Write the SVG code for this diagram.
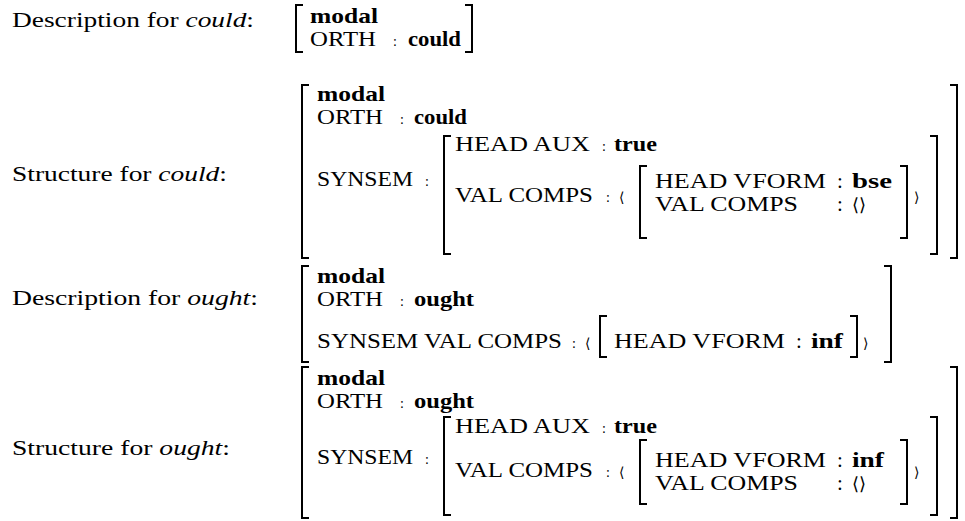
<svg xmlns="http://www.w3.org/2000/svg" width="965" height="521" viewBox="0 0 965 521">
<style>
text { font-family: "Liberation Serif", "Times New Roman", serif; font-size: 21px; fill: #000; }
.b { font-weight: bold; }
.i { font-style: italic; }
.sc { font-size: 14px; }
.ab { font-size: 14px; font-family: "DejaVu Serif", serif; }
.em { font-family: "DejaVu Serif", serif; font-size: 18px; }
.br { fill: none; stroke: #000; stroke-width: 2; }
</style>
<rect width="965" height="521" fill="#fff"/>

<g id="desc-could">
  <text x="12" y="27" textLength="242" lengthAdjust="spacingAndGlyphs">Description for <tspan class="i">could</tspan>:</text>
  <path class="br" d="M303 5 H296 V52 H303"/>
  <path class="br" d="M465 5 H472 V52 H465"/>
  <text class="b" x="310" y="23" textLength="68" lengthAdjust="spacingAndGlyphs">modal</text>
  <text x="310" y="46" textLength="66" lengthAdjust="spacingAndGlyphs">ORTH</text>
  <text class="sc" x="393" y="46">:</text>
  <text class="b" x="408" y="46" textLength="53" lengthAdjust="spacingAndGlyphs">could</text>
</g>

<g id="struct-could">
  <text x="12" y="181" textLength="215" lengthAdjust="spacingAndGlyphs">Structure for <tspan class="i">could</tspan>:</text>
  <path class="br" d="M309 85 H302 V258 H309"/>
  <path class="br" d="M950 85 H957 V258 H950"/>
  <text class="b" x="317" y="101" textLength="68" lengthAdjust="spacingAndGlyphs">modal</text>
  <text x="317" y="124" textLength="66" lengthAdjust="spacingAndGlyphs">ORTH</text>
  <text class="sc" x="400" y="124">:</text>
  <text class="b" x="414" y="124" textLength="53" lengthAdjust="spacingAndGlyphs">could</text>
  <text x="317" y="186" textLength="96" lengthAdjust="spacingAndGlyphs">SYNSEM</text>
  <text class="sc" x="425" y="186">:</text>
  <path class="br" d="M451 136 H444 V254 H451"/>
  <path class="br" d="M930 136 H937 V254 H930"/>
  <text x="455" y="151" textLength="135" lengthAdjust="spacingAndGlyphs">HEAD AUX</text>
  <text class="sc" x="602" y="151">:</text>
  <text class="b" x="614" y="151" textLength="43" lengthAdjust="spacingAndGlyphs">true</text>
  <text x="455" y="202" textLength="138" lengthAdjust="spacingAndGlyphs">VAL COMPS</text>
  <text class="sc" x="606" y="202">:</text>
  <text class="ab" x="619" y="202">⟨</text>
  <path class="br" d="M647 166 H640 V238 H647"/>
  <path class="br" d="M900 166 H907 V238 H900"/>
  <text x="655" y="188" textLength="171" lengthAdjust="spacingAndGlyphs">HEAD VFORM</text>
  <text x="837" y="188">:</text>
  <text class="b" x="852" y="188" textLength="40" lengthAdjust="spacingAndGlyphs">bse</text>
  <text x="655" y="211" textLength="143" lengthAdjust="spacingAndGlyphs">VAL COMPS</text>
  <text x="837" y="211">:</text>
  <text class="em" x="852" y="211">⟨⟩</text>
  <text class="ab" x="914" y="202">⟩</text>
</g>

<g id="desc-ought">
  <text x="12" y="305" textLength="246" lengthAdjust="spacingAndGlyphs">Description for <tspan class="i">ought</tspan>:</text>
  <path class="br" d="M309 266 H302 V362 H309"/>
  <path class="br" d="M884 266 H891 V362 H884"/>
  <text class="b" x="317" y="283" textLength="68" lengthAdjust="spacingAndGlyphs">modal</text>
  <text x="317" y="306" textLength="66" lengthAdjust="spacingAndGlyphs">ORTH</text>
  <text class="sc" x="400" y="306">:</text>
  <text class="b" x="414" y="306" textLength="60" lengthAdjust="spacingAndGlyphs">ought</text>
  <text x="317" y="348" textLength="245" lengthAdjust="spacingAndGlyphs">SYNSEM VAL COMPS</text>
  <text class="sc" x="572" y="348">:</text>
  <text class="ab" x="585" y="348">⟨</text>
  <path class="br" d="M607 316 H600 V357 H607"/>
  <path class="br" d="M850 316 H857 V357 H850"/>
  <text x="614" y="348" textLength="171" lengthAdjust="spacingAndGlyphs">HEAD VFORM</text>
  <text x="796" y="348">:</text>
  <text class="b" x="811" y="348" textLength="32" lengthAdjust="spacingAndGlyphs">inf</text>
  <text class="ab" x="863" y="348">⟩</text>
</g>

<g id="struct-ought">
  <text x="12" y="455" textLength="218" lengthAdjust="spacingAndGlyphs">Structure for <tspan class="i">ought</tspan>:</text>
  <path class="br" d="M309 367 H302 V518 H309"/>
  <path class="br" d="M950 367 H957 V518 H950"/>
  <text class="b" x="317" y="385" textLength="68" lengthAdjust="spacingAndGlyphs">modal</text>
  <text x="317" y="408" textLength="66" lengthAdjust="spacingAndGlyphs">ORTH</text>
  <text class="sc" x="400" y="408">:</text>
  <text class="b" x="414" y="408" textLength="60" lengthAdjust="spacingAndGlyphs">ought</text>
  <text x="317" y="464" textLength="96" lengthAdjust="spacingAndGlyphs">SYNSEM</text>
  <text class="sc" x="425" y="464">:</text>
  <path class="br" d="M451 417 H444 V515 H451"/>
  <path class="br" d="M930 417 H937 V515 H930"/>
  <text x="455" y="433" textLength="135" lengthAdjust="spacingAndGlyphs">HEAD AUX</text>
  <text class="sc" x="602" y="433">:</text>
  <text class="b" x="614" y="433" textLength="43" lengthAdjust="spacingAndGlyphs">true</text>
  <text x="455" y="477" textLength="138" lengthAdjust="spacingAndGlyphs">VAL COMPS</text>
  <text class="sc" x="606" y="477">:</text>
  <text class="ab" x="619" y="477">⟨</text>
  <path class="br" d="M647 440 H640 V504 H647"/>
  <path class="br" d="M900 440 H907 V504 H900"/>
  <text x="655" y="467" textLength="171" lengthAdjust="spacingAndGlyphs">HEAD VFORM</text>
  <text x="837" y="467">:</text>
  <text class="b" x="852" y="467" textLength="32" lengthAdjust="spacingAndGlyphs">inf</text>
  <text x="655" y="490" textLength="143" lengthAdjust="spacingAndGlyphs">VAL COMPS</text>
  <text x="837" y="490">:</text>
  <text class="em" x="852" y="490">⟨⟩</text>
  <text class="ab" x="914" y="477">⟩</text>
</g>
</svg>
